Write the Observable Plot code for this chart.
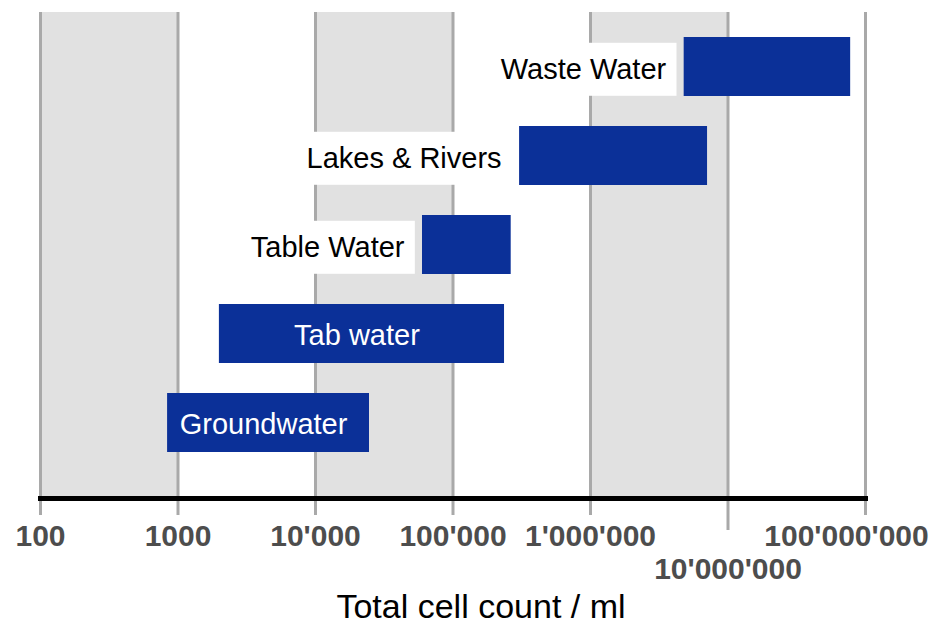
<!DOCTYPE html>
<html>
<head>
<meta charset="utf-8">
<script src="https://cdn.jsdelivr.net/npm/d3@7"></script>
<script src="https://cdn.jsdelivr.net/npm/@observablehq/plot@0.6"></script>
<style>
  body { margin: 0; background: #fff; }
</style>
</head>
<body>
<div id="chart"></div>
<script>
const categories = ["Waste Water", "Lakes & Rivers", "Table Water", "Tab water", "Groundwater"];
const lowValues  = [4.8e6, 3.05e5, 6.0e4, 2.0e3, 840];
const highValues = [7.8e7, 7.1e6, 2.65e5, 2.37e5, 2.47e4];
const labelInside = [false, false, false, true, true];
const tickValues = [1e2, 1e3, 1e4, 1e5, 1e6, 1e7, 1e8];
const tickLabels = ["100", "1000", "10'000", "100'000", "1'000'000", "10'000'000", "100'000'000"];
const shadedStarts = [1e2, 1e4, 1e6];
const shadedEnds = [1e3, 1e5, 1e7];
const xLabel = "Total cell count / ml";

const rows = categories.map((c, i) => ({category: c, low: lowValues[i], high: highValues[i], inside: labelInside[i]}));
const shaded = shadedStarts.map((s, i) => ({start: s, end: shadedEnds[i]}));
const font = "'Liberation Sans', Arial, Helvetica, sans-serif";
const fmt = d => tickLabels[tickValues.indexOf(d)];
const tickStyle = {stroke: "#a9a9a9", strokeWidth: 3, fontSize: 30, fontWeight: "bold", fill: "#4d4d4d", label: null};

const plot = Plot.plot({
  width: 937,
  height: 623,
  marginLeft: 40,
  marginRight: 72,
  marginTop: 12,
  marginBottom: 125,
  style: {fontFamily: font, background: "#fff", overflow: "visible"},
  x: {type: "log", domain: [1e2, 1e8], axis: null},
  y: {type: "band", domain: categories, range: [20, 469], paddingInner: 0.34, paddingOuter: 0.17, axis: null},
  marks: [
    Plot.rect(shaded, {x1: "start", x2: "end", fill: "#e1e1e1"}),
    Plot.ruleX(tickValues, {stroke: "#a9a9a9", strokeWidth: 3}),
    Plot.axisX(tickValues.filter(v => v !== 1e7), {...tickStyle, tickSize: 17, tickPadding: 9,
      tickFormat: d => (d === 1e8 ? "" : fmt(d))}),
    Plot.axisX([1e7], {...tickStyle, tickSize: 32, tickPadding: 27, tickFormat: fmt}),
    Plot.axisX([1e8], {...tickStyle, tickSize: 0, tickPadding: 26, dx: -19, tickFormat: fmt}),
    Plot.frame({anchor: "bottom", stroke: "#000", strokeWidth: 5}),
    Plot.barX(rows, {x1: "low", x2: "high", y: "category", fill: "#0b3098"}),
    Plot.text(rows.filter(d => !d.inside), {
      x: "low", y: "category", text: "category", textAnchor: "end", dx: -18, dy: 3,
      fontSize: 29, fill: "#000", ariaLabel: () => "outside-label"
    }),
    Plot.text(rows.filter(d => d.inside), {
      x: d => Math.sqrt(d.low * d.high), y: "category", text: "category", dy: 2, dx: -5,
      fontSize: 29, fill: "#fff"
    }),
    Plot.text([xLabel], {frameAnchor: "bottom", text: d => d, dy: 119, dx: 28, fontSize: 34, fill: "#000"})
  ]
});

document.getElementById("chart").append(plot);

// white label boxes sized from the rendered text
plot.querySelectorAll('text[aria-label="outside-label"]').forEach(t => {
  const b = t.getBBox();
  const r = document.createElementNS("http://www.w3.org/2000/svg", "rect");
  const cy = b.y + b.height / 2;
  r.setAttribute("x", b.x - 4);
  r.setAttribute("y", cy - 26.5);
  r.setAttribute("width", b.width + 14);
  r.setAttribute("height", 53);
  r.setAttribute("fill", "#fff");
  const tr = t.getAttribute("transform");
  if (tr) r.setAttribute("transform", tr);
  t.parentNode.insertBefore(r, t);
});
</script>
</body>
</html>
